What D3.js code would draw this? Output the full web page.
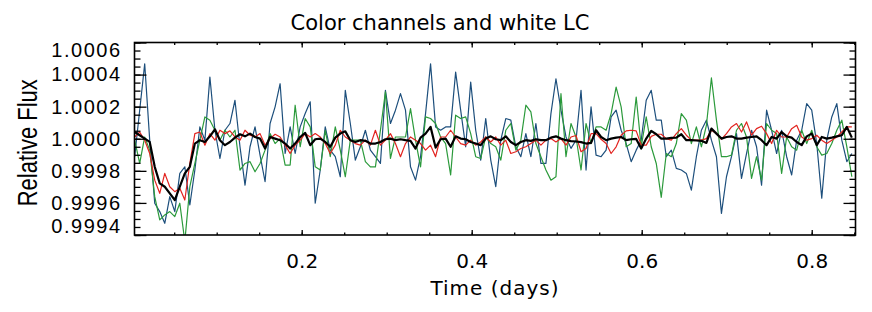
<!DOCTYPE html>
<html>
<head>
<meta charset="utf-8">
<script src="https://cdn.jsdelivr.net/npm/d3@7"></script>
<style>
  body { margin: 0; background: #fff; }
  svg { display: block; }
</style>
</head>
<body>
<script>
// time grid (days) and light curves, stored as deviation from 1 in ppm
const t0 = 0.0035, dt = 0.0059

const blueFlux = [-112,178,467,-9,-402,-454,-527,-361,-454,-216,-175,-413,-195,74,-9,385,53,-123,53,95,
  240,-50,-289,-50,74,-102,-268,95,199,343,-92,74,-92,74,157,230,-402,-195,74,-71,
  -112,-237,302,95,-133,-50,53,-71,-112,-154,302,95,178,281,178,-175,-258,-112,157,467,
  74,53,74,74,415,178,-50,353,53,-133,126,-133,-299,-9,126,116,-50,-112,32,-112,
  95,-154,-154,157,374,178,11,-60,-9,302,-195,199,-102,-112,-71,136,178,53,-30,-143,
  -71,-9,240,302,116,116,-112,-71,-185,-195,-216,-320,-112,53,116,-9,-112,-465,-237,-112,
  32,-247,-92,53,-50,-289,178,53,-92,53,-112,-226,-9,53,219,178,-30,-371,-9,136,
  219,-9,-143,-92]

const greenFlux = [-9,-154,11,-71,-361,-506,-475,-454,-485,-402,-640,-299,-154,-9,136,116,53,-9,53,11,
  53,-195,-154,-143,-206,-154,-71,32,-30,1,-164,-164,209,-50,126,74,-175,-195,53,-112,
  74,-71,-237,-9,-9,-9,-143,-175,-175,53,292,-123,11,11,11,188,-9,-175,136,126,
  95,11,-30,-226,147,126,136,32,-112,-123,11,-30,-50,-133,53,95,-71,-9,209,167,
  -30,-112,-195,-258,-237,281,-112,95,11,-195,95,-30,74,74,53,157,322,199,-50,-30,
  260,-50,136,-50,-154,-365,-92,-112,-30,157,116,-30,74,-50,84,379,116,-112,-112,-102,
  53,95,11,-247,-112,-258,95,53,32,-216,11,-50,-71,53,-30,53,-50,-102,-92,-30,
  53,116,-50,-237]

const redFlux = [11,42,-9,-92,-258,-340,-216,-299,-330,-309,-382,-154,32,42,-40,32,-9,53,32,49,
  11,-9,53,22,11,32,-40,1,28,11,-40,-92,-40,-9,32,11,32,11,-30,-92,
  -40,53,11,-9,-30,-40,-9,-40,53,-40,-9,32,-30,-112,-30,11,-9,-30,-71,-40,
  -112,11,11,53,11,-30,-40,-9,-40,-20,11,-20,11,-40,-9,-92,-81,-61,-50,-30,
  -9,-40,-9,1,-20,1,-40,11,20,-81,-61,32,32,-3,-30,-92,-50,22,49,53,
  49,-40,-40,15,28,28,1,-9,32,63,22,-9,-9,-9,1,53,32,-3,32,74,
  95,42,105,22,63,78,32,-30,53,11,11,63,84,11,-9,1,22,-9,-30,-9,
  11,42,74,74]

const whiteFlux = [42,22,1,-20,-175,-278,-299,-340,-382,-299,-216,-175,-30,-9,-20,15,59,-9,-40,-20,
  7,28,15,32,11,1,-61,11,1,-9,-30,-61,-30,11,36,-40,-3,1,-20,-50,
  7,32,46,-9,-20,-9,-13,-30,-30,-20,-3,1,-9,-3,-9,-13,-61,7,32,74,
  -55,-3,1,-50,15,1,-3,-20,-30,-40,1,15,-3,-9,15,-20,-40,-20,-9,-13,
  -3,-9,-9,7,15,1,-9,-15,-17,-21,-30,-26,53,11,-9,1,7,11,-9,-3,
  -1,-61,1,49,28,1,1,5,7,28,-9,-9,-11,-13,-26,63,32,1,11,15,
  1,1,7,11,15,-9,-40,11,1,42,15,7,-20,-40,15,32,-40,11,1,7,
  15,22,74,7]

const times = d3.range(whiteFlux.length).map(i => t0 + dt * i)

const xTickValues = [0.2, 0.4, 0.6, 0.8]
const xTickLabels = ['0.2', '0.4', '0.6', '0.8']
const yTickValues = [0.9994, 0.9996, 0.9998, 1.0000, 1.0002, 1.0004, 1.0006]
const yTickLabels = ['0.9994', '0.9996', '0.9998', '1.0000', '1.0002', '1.0004', '1.0006']

const W = 872, H = 312
const pLeft = 134.5, pRight = 855.5, pTop = 42.5, pBottom = 235

const x = d3.scaleLinear().domain([0.0033, 0.8515]).range([pLeft, pRight])
const y = d3.scaleLinear().domain([0.9994, 1.0006]).range([pBottom, pTop])

const xMinor = d3.range(0.05, 0.851, 0.05)
const yMinor = d3.range(0.99940, 1.000601, 0.00005)

const svg = d3.select('body').append('svg')
  .attr('width', W)
  .attr('height', H)

svg.append('defs').append('clipPath').attr('id', 'plot-clip')
  .append('rect')
  .attr('x', pLeft).attr('y', pTop)
  .attr('width', pRight - pLeft).attr('height', pBottom - pTop)

// series
const series = [
  { values: blueFlux, color: '#1d4f7c', width: 1.2 },
  { values: greenFlux, color: '#2b9a3b', width: 1.2 },
  { values: redFlux, color: '#e2231f', width: 1.2 },
  { values: whiteFlux, color: '#000000', width: 2.2 }
]

const line = d3.line()
  .x((d, i) => x(times[i]))
  .y(d => y(1 + d / 1e6))

const plot = svg.append('g').attr('clip-path', 'url(#plot-clip)')
plot.selectAll('path')
  .data(series)
  .enter()
  .append('path')
  .attr('fill', 'none')
  .attr('stroke', d => d.color)
  .attr('stroke-width', d => d.width)
  .attr('stroke-linejoin', 'round')
  .attr('d', d => line(d.values))

// axes, ticks pointing inward
function styleAxis(g) {
  g.select('.domain').remove()
  g.selectAll('line').attr('stroke', '#000').attr('stroke-width', 1.3)
}

svg.append('g').attr('transform', `translate(0,${pBottom})`)
  .call(d3.axisBottom(x).tickValues(xMinor).tickSize(-2.5).tickFormat(''))
  .call(styleAxis)
const xAxis = svg.append('g').attr('transform', `translate(0,${pBottom})`)
  .call(d3.axisBottom(x).tickValues(xTickValues).tickSize(-5).tickPadding(19)
    .tickFormat((d, i) => xTickLabels[i]))
  .call(styleAxis)
xAxis.selectAll('text')
  .attr('fill', '#000')
  .style('font-family', '"DejaVu Sans", sans-serif')
  .style('font-size', '20px')

svg.append('g').attr('transform', `translate(0,${pTop})`)
  .call(d3.axisTop(x).tickValues(xMinor).tickSize(-2.5).tickFormat(''))
  .call(styleAxis)
svg.append('g').attr('transform', `translate(0,${pTop})`)
  .call(d3.axisTop(x).tickValues(xTickValues).tickSize(-5).tickFormat(''))
  .call(styleAxis)

svg.append('g').attr('transform', `translate(${pLeft},0)`)
  .call(d3.axisLeft(y).tickValues(yMinor).tickSize(-6).tickFormat(''))
  .call(styleAxis)
const yAxis = svg.append('g').attr('transform', `translate(${pLeft},0)`)
  .call(d3.axisLeft(y).tickValues(yTickValues).tickSize(-12).tickPadding(13)
    .tickFormat((d, i) => yTickLabels[i]))
  .call(styleAxis)
yAxis.selectAll('text')
  .attr('fill', '#000')
  .style('font-family', '"Liberation Sans", Arial, sans-serif')
  .style('font-size', '20px')
  .style('letter-spacing', '1.5px')
// keep the end labels inside the frame
yAxis.selectAll('.tick').filter(d => d === 1.0006).select('text').attr('y', 8)
yAxis.selectAll('.tick').filter(d => d === 0.9994).select('text').attr('y', -9)

svg.append('g').attr('transform', `translate(${pRight},0)`)
  .call(d3.axisRight(y).tickValues(yMinor).tickSize(-6).tickFormat(''))
  .call(styleAxis)
svg.append('g').attr('transform', `translate(${pRight},0)`)
  .call(d3.axisRight(y).tickValues(yTickValues).tickSize(-12).tickFormat(''))
  .call(styleAxis)

// frame
svg.append('rect')
  .attr('x', pLeft).attr('y', pTop)
  .attr('width', pRight - pLeft).attr('height', pBottom - pTop)
  .attr('fill', 'none')
  .attr('stroke', '#000')
  .attr('stroke-width', 1.6)

// titles
svg.append('text')
  .attr('x', 440).attr('y', 30)
  .attr('text-anchor', 'middle')
  .style('font-family', '"DejaVu Sans", sans-serif')
  .style('font-size', '21px')
  .text('Color channels and white LC')

svg.append('text')
  .attr('x', (pLeft + pRight) / 2).attr('y', 295)
  .attr('text-anchor', 'middle')
  .style('font-family', '"DejaVu Sans", sans-serif')
  .style('font-size', '20px')
  .style('letter-spacing', '1px')
  .text('Time (days)')

svg.append('text')
  .attr('transform', `translate(37,${(pTop + pBottom) / 2 + 4}) rotate(-90) scale(1,1.25)`)
  .attr('text-anchor', 'middle')
  .style('font-family', '"Liberation Sans", Arial, sans-serif')
  .style('font-size', '22px')
  .text('Relative Flux')
</script>
</body>
</html>
